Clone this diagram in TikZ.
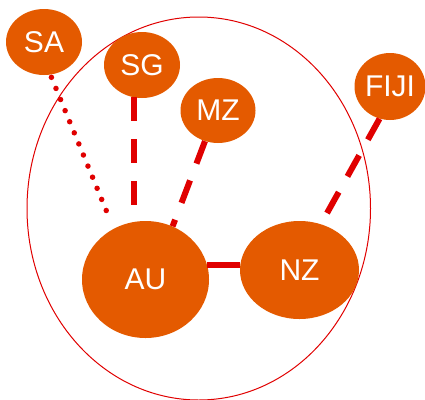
\documentclass[tikz,border=0pt]{standalone}
\usepackage{fontspec}
\setmainfont{Liberation Sans}
\usetikzlibrary{shapes.geometric}
\definecolor{nodeorange}{RGB}{228,90,0}
\definecolor{linkred}{RGB}{224,0,0}
\begin{document}
\begin{tikzpicture}[x=1pt,y=-1pt,
  country/.style={ellipse, fill=nodeorange, text=white, inner sep=0pt, font=\fontsize{30}{36}\selectfont},
  link/.style={draw=linkred, line width=6pt},
  dashlink/.style={link, dash pattern=on 24pt off 18pt},
  dotlink/.style={draw=linkred, line width=5.5pt, line cap=round, dash pattern=on 0pt off 12pt},
  groupring/.style={ellipse, draw=linkred, line width=1pt, inner sep=0pt}]
\useasboundingbox (0,0) rectangle (425,399);
\node[groupring, minimum width=343.5pt, minimum height=383pt] (group) at (198.75,208.5) {};
\node[country, minimum width=76pt, minimum height=66pt] (SA) at (44,42) {SA};
\node[country, minimum width=76pt, minimum height=66pt] (SG) at (142,65) {SG};
\node[country, minimum width=75pt, minimum height=65pt] (MZ) at (218,110.5) {MZ};
\node[country, minimum width=71pt, minimum height=67pt] (FIJI) at (390,86.5) {FIJI};
\node[country, minimum width=127pt, minimum height=117pt] (AU) at (145.5,279.5) {AU};
\node[country, minimum width=119pt, minimum height=98pt] (NZ) at (299.5,270) {NZ};
\draw[dotlink, shorten <=2.8pt, shorten >=8pt] (SA.-79) -- (AU.122);
\draw[dashlink] (SG.256) -- (SG.256 |- AU.north);
\draw[dashlink] (MZ.247) -- (AU.63);
\draw[dashlink] (FIJI.252) -- (NZ.65);
\draw[link] (AU.13) -- (AU.13 -| NZ.west);
\end{tikzpicture}
\end{document}
